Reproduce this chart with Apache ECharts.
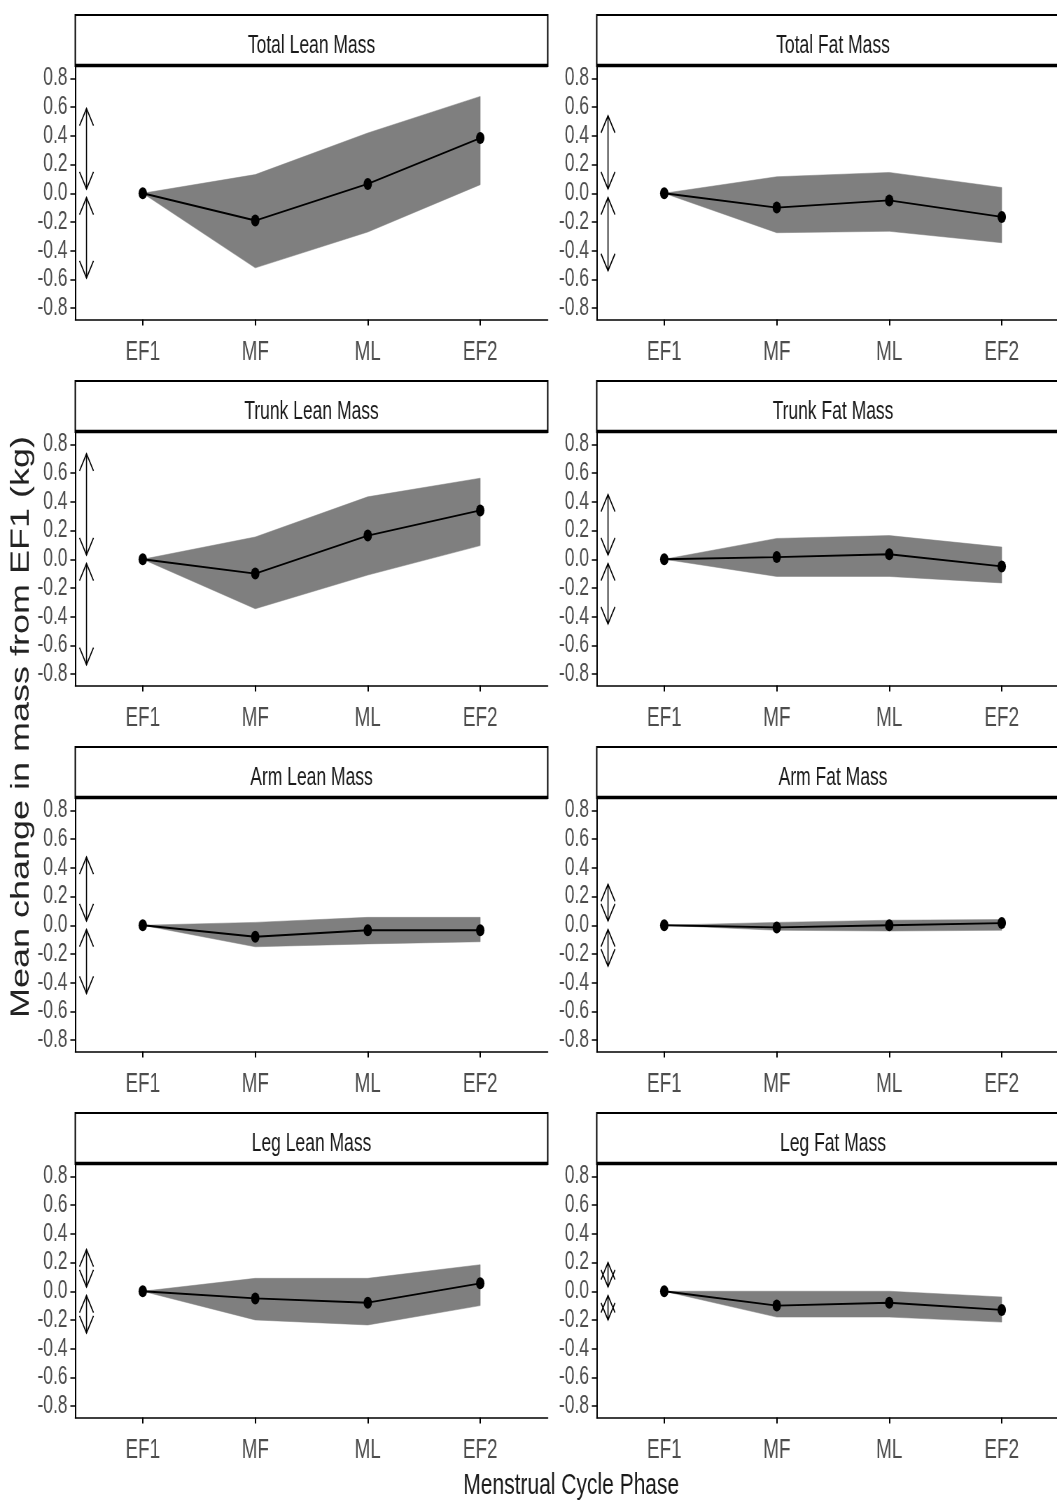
<!DOCTYPE html>
<html>
<head>
<meta charset="utf-8">
<title>Mean change in body composition across the menstrual cycle</title>
<script src="https://cdn.jsdelivr.net/npm/echarts@6/dist/echarts.min.js"></script>
<style>
  html, body { margin: 0; padding: 0; overflow: hidden; background: #fff; }
  #wrap { width: 1057px; height: 1500px; overflow: hidden; position: relative; }
  /* the figure is laid out wide and then condensed horizontally */
  #chart { position: absolute; left: 0; top: 0; width: 1540px; height: 1500px;
           transform: scaleX(0.7); transform-origin: 0 0; }
</style>
</head>
<body>
<div id="wrap"><div id="chart"></div></div>
<script>
// ---- data -------------------------------------------------------------
const phases = ['EF1', 'MF', 'ML', 'EF2'];
const yTicks = [-0.8, -0.6, -0.4, -0.2, 0, 0.2, 0.4, 0.6, 0.8];
const panelTitles = ['Total Lean Mass', 'Total Fat Mass', 'Trunk Lean Mass', 'Trunk Fat Mass',
                     'Arm Lean Mass', 'Arm Fat Mass', 'Leg Lean Mass', 'Leg Fat Mass'];

// mean change from EF1 (kg) and the limits of the shaded band
const totalLeanMean  = [0, -0.19, 0.065, 0.385];
const totalLeanUpper = [0, 0.13, 0.42, 0.675];
const totalLeanLower = [0, -0.52, -0.27, 0.06];

const totalFatMean  = [0, -0.10, -0.05, -0.165];
const totalFatUpper = [0, 0.115, 0.145, 0.04];
const totalFatLower = [0, -0.275, -0.265, -0.345];

const trunkLeanMean  = [0, -0.10, 0.165, 0.34];
const trunkLeanUpper = [0, 0.155, 0.435, 0.565];
const trunkLeanLower = [0, -0.345, -0.11, 0.095];

const trunkFatMean  = [0, 0.015, 0.035, -0.05];
const trunkFatUpper = [0, 0.145, 0.165, 0.085];
const trunkFatLower = [0, -0.12, -0.12, -0.165];

const armLeanMean  = [0, -0.08, -0.035, -0.035];
const armLeanUpper = [0, 0.02, 0.055, 0.055];
const armLeanLower = [0, -0.15, -0.13, -0.115];

const armFatMean  = [0, -0.015, 0.0, 0.015];
const armFatUpper = [0, 0.02, 0.035, 0.04];
const armFatLower = [0, -0.035, -0.04, -0.035];

const legLeanMean  = [0, -0.05, -0.08, 0.055];
const legLeanUpper = [0, 0.09, 0.09, 0.185];
const legLeanLower = [0, -0.20, -0.235, -0.10];

const legFatMean  = [0, -0.10, -0.08, -0.13];
const legFatUpper = [0, 0.0, 0.0, -0.04];
const legFatLower = [0, -0.18, -0.18, -0.215];

// reach of the double-headed reference arrows (kg, either side of zero)
const arrowReach = [0.59, 0.54, 0.735, 0.45, 0.475, 0.285, 0.29, 0.20];
const arrowGap = 0.03;
const arrowX = 0.5;

// ---- layout -----------------------------------------------------------
const FONT = "'Liberation Sans', Arial, Helvetica, sans-serif";
const TEXT_DARK = '#1a1a1a';
const TICK_GREY = '#4d4d4d';
const colLeft = [107.5, 852.5];
const rowTop = [67, 433, 799, 1165];
const panelW = 675;
const panelH = 252.5;
const stripH = 53;

const panels = [
  { mean: totalLeanMean, upper: totalLeanUpper, lower: totalLeanLower },
  { mean: totalFatMean,  upper: totalFatUpper,  lower: totalFatLower },
  { mean: trunkLeanMean, upper: trunkLeanUpper, lower: trunkLeanLower },
  { mean: trunkFatMean,  upper: trunkFatUpper,  lower: trunkFatLower },
  { mean: armLeanMean,   upper: armLeanUpper,   lower: armLeanLower },
  { mean: armFatMean,    upper: armFatUpper,    lower: armFatLower },
  { mean: legLeanMean,   upper: legLeanUpper,   lower: legLeanLower },
  { mean: legFatMean,    upper: legFatUpper,    lower: legFatLower }
].map((p, i) => Object.assign(p, { title: panelTitles[i], reach: arrowReach[i] }));

const grids = [], xAxes = [], yAxes = [], series = [], graphics = [];
const phaseX = phases.map((_, k) => k + 1);

panels.forEach((p, i) => {
  const row = Math.floor(i / 2), col = i % 2;
  const left = colLeft[col], top = rowTop[row];

  grids.push({ left: left, top: top, width: panelW, height: panelH });

  xAxes.push({
    type: 'value', gridIndex: i, min: 0.4, max: 4.6,
    axisLine: { show: true, onZero: false, lineStyle: { color: '#000', width: 1.6 } },
    axisTick: { show: true, customValues: phaseX, length: 6, lineStyle: { color: '#000', width: 2 } },
    axisLabel: { customValues: phaseX, formatter: v => phases[Math.round(v) - 1],
                 color: TICK_GREY, fontSize: 27, fontFamily: FONT, margin: 20 },
    splitLine: { show: false }
  });

  yAxes.push({
    type: 'value', gridIndex: i, min: -0.88, max: 0.88,
    axisLine: { show: true, onZero: false, lineStyle: { color: '#000', width: 2 } },
    axisTick: { show: true, customValues: yTicks, length: 7, lineStyle: { color: '#000', width: 1.5 } },
    axisLabel: { customValues: yTicks, formatter: v => v.toFixed(1),
                 color: TICK_GREY, fontSize: 25, fontFamily: FONT, margin: 11 },
    splitLine: { show: false }
  });

  // shaded band between lower and upper limits
  series.push({
    type: 'custom', xAxisIndex: i, yAxisIndex: i, silent: true, z: 1, clip: false,
    data: [[1, 0]],
    renderItem: (params, api) => {
      const pts = [];
      p.upper.forEach((v, k) => pts.push(api.coord([phaseX[k], v])));
      for (let k = p.lower.length - 1; k >= 0; k--) pts.push(api.coord([phaseX[k], p.lower[k]]));
      return { type: 'polygon', shape: { points: pts }, style: { fill: '#7f7f7f', stroke: '#7f7f7f', lineWidth: 0.5 } };
    }
  });

  // mean change line with points
  series.push({
    type: 'line', xAxisIndex: i, yAxisIndex: i, z: 3,
    data: p.mean.map((v, k) => [phaseX[k], v]),
    symbol: 'circle', symbolSize: 12, showSymbol: true,
    lineStyle: { color: '#000', width: 1.8 },
    itemStyle: { color: '#000' }
  });

  // double-headed open arrows beside the y axis
  series.push({
    type: 'custom', xAxisIndex: i, yAxisIndex: i, silent: true, z: 2, clip: false,
    data: [[arrowX, arrowGap, p.reach], [arrowX, -arrowGap, -p.reach]],
    encode: { x: 0, y: [1, 2] },
    renderItem: (params, api) => {
      const a = api.coord([api.value(0), api.value(1)]);
      const b = api.coord([api.value(0), api.value(2)]);
      const dir = Math.sign(b[1] - a[1]);
      const hl = 17, hw = 10;
      const st = { stroke: '#000', fill: 'none', lineWidth: 1.6 };
      return {
        type: 'group',
        children: [
          { type: 'line', shape: { x1: a[0], y1: a[1], x2: b[0], y2: b[1] }, style: st },
          { type: 'polyline', shape: { points: [[b[0] - hw, b[1] - dir * hl], b, [b[0] + hw, b[1] - dir * hl]] }, style: st },
          { type: 'polyline', shape: { points: [[a[0] - hw, a[1] + dir * hl], a, [a[0] + hw, a[1] + dir * hl]] }, style: st }
        ]
      };
    }
  });

  // facet strip
  const sTop = top - stripH;
  graphics.push({ type: 'rect', z: 10,
    shape: { x: left, y: sTop + 1, width: panelW, height: stripH - 2 },
    style: { fill: '#fff', stroke: '#000', lineWidth: 2 } });
  graphics.push({ type: 'line', z: 11,
    shape: { x1: left, y1: top - 1.5, x2: left + panelW, y2: top - 1.5 },
    style: { stroke: '#000', lineWidth: 3.5 } });
  graphics.push({ type: 'text', z: 12, x: left + panelW / 2, y: sTop + 32,
    style: { text: p.title, fill: TEXT_DARK, fontSize: 25, fontFamily: FONT,
             align: 'center', verticalAlign: 'middle' } });
});

// shared axis titles
graphics.push({ type: 'text', z: 12, x: 31, y: 727, rotation: Math.PI / 2,
  style: { text: 'Mean change in mass from EF1 (kg)', fill: '#222', fontSize: 36, fontFamily: FONT,
           align: 'center', verticalAlign: 'middle' } });
graphics.push({ type: 'text', z: 12, x: 816, y: 1486,
  style: { text: 'Menstrual Cycle Phase', fill: TEXT_DARK, fontSize: 30, fontFamily: FONT,
           align: 'center', verticalAlign: 'middle' } });

const chart = echarts.init(document.getElementById('chart'), null, { renderer: 'canvas' });
chart.setOption({
  animation: false,
  backgroundColor: '#fff',
  grid: grids,
  xAxis: xAxes,
  yAxis: yAxes,
  series: series,
  graphic: { elements: graphics }
});
</script>
</body>
</html>
